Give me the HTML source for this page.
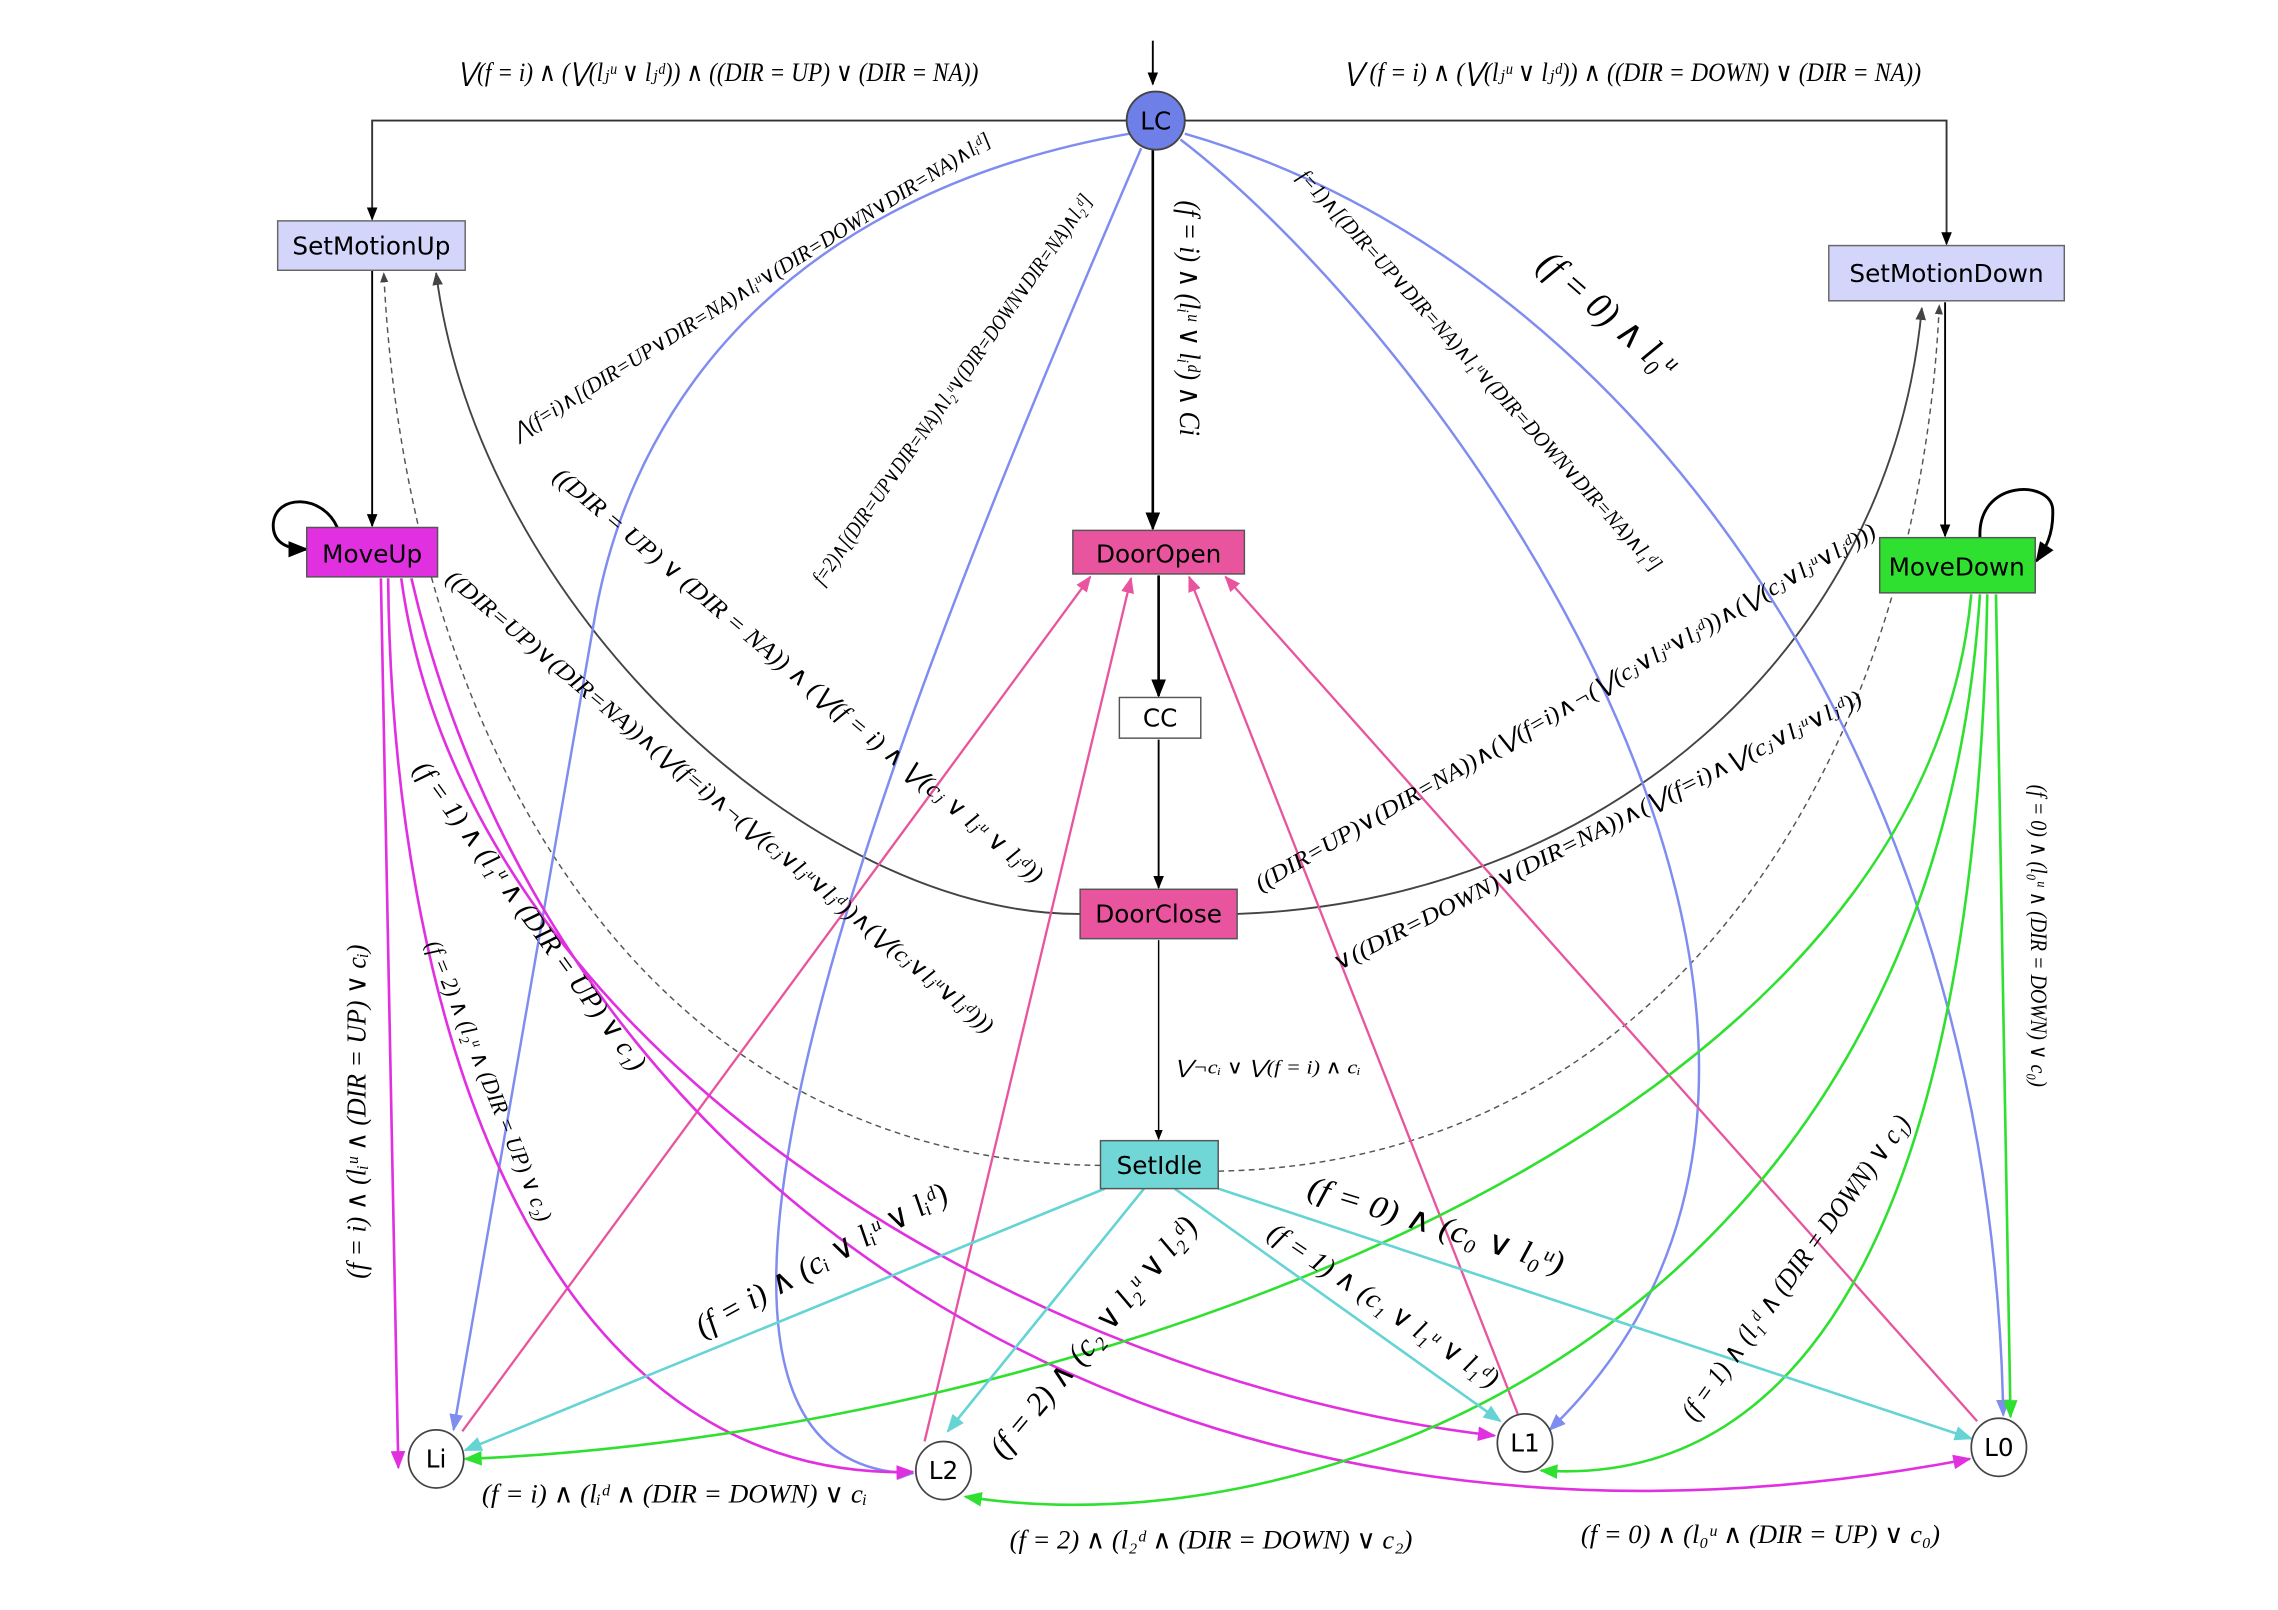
<!DOCTYPE html>
<html><head><meta charset="utf-8"><style>
html,body{margin:0;padding:0;background:#fff;}
svg{display:block;}
.n{font-family:"DejaVu Sans","Liberation Sans",sans-serif;font-size:17px;fill:#000;}
.m{font-family:"Liberation Serif","DejaVu Serif",serif;font-style:italic;fill:#000;}
</style></head><body>
<svg width="2278" height="1610" viewBox="0 0 1567 1108" preserveAspectRatio="none" xmlns="http://www.w3.org/2000/svg">
<defs>
<marker id="ak" viewBox="0 0 10 10" refX="9" refY="5" markerWidth="7" markerHeight="7" orient="auto"><path d="M0,1 L10,5 L0,9z" fill="#000"/></marker>
<marker id="ag" viewBox="0 0 10 10" refX="9" refY="5" markerWidth="7" markerHeight="7" orient="auto"><path d="M0,1 L10,5 L0,9z" fill="#444"/></marker>
<marker id="ab" viewBox="0 0 10 10" refX="9" refY="5" markerWidth="7" markerHeight="7" orient="auto"><path d="M0,1 L10,5 L0,9z" fill="#7f8cf0"/></marker>
<marker id="ap" viewBox="0 0 10 10" refX="9" refY="5" markerWidth="7" markerHeight="7" orient="auto"><path d="M0,1 L10,5 L0,9z" fill="#e8559e"/></marker>
<marker id="am" viewBox="0 0 10 10" refX="9" refY="5" markerWidth="7" markerHeight="7" orient="auto"><path d="M0,1 L10,5 L0,9z" fill="#e030e0"/></marker>
<marker id="agr" viewBox="0 0 10 10" refX="9" refY="5" markerWidth="7" markerHeight="7" orient="auto"><path d="M0,1 L10,5 L0,9z" fill="#30e030"/></marker>
<marker id="ac" viewBox="0 0 10 10" refX="9" refY="5" markerWidth="7" markerHeight="7" orient="auto"><path d="M0,1 L10,5 L0,9z" fill="#66d4d4"/></marker>
</defs>

<g fill="none" stroke="#000" stroke-width="1.3">
<path d="M793,28 L793,58" marker-end="url(#ak)"/>
<path d="M775,83 L256,83 L256,151" stroke="#333" marker-end="url(#ak)"/>
<path d="M815,83 L1339,83 L1339,168" stroke="#333" marker-end="url(#ak)"/>
<path d="M793,103 L793,364" stroke-width="1.8" marker-end="url(#ak)"/>
<path d="M256,186 L256,362" marker-end="url(#ak)"/>
<path d="M1338,208 L1338,369" marker-end="url(#ak)"/>
<path d="M797,396 L797,479" stroke-width="1.8" marker-end="url(#ak)"/>
<path d="M797,509 L797,611" marker-end="url(#ak)"/>
<path d="M797,647 L797,784" stroke-width="1" marker-end="url(#ak)"/>
<path d="M232,363 C222,340 190,340 188,360 C187,375 200,378 211,378" stroke-width="2" marker-end="url(#ak)"/>
<path d="M1362,370 C1360,330 1410,330 1412,350 C1413,370 1405,380 1401,386" stroke-width="2" marker-end="url(#ak)"/>
<path d="M743,629 C560,630 330,420 300,188" stroke="#444" marker-end="url(#ag)"/>
<path d="M851,629 C1100,620 1300,450 1322,212" stroke="#444" marker-end="url(#ag)"/>
<path d="M757,802 C450,800 280,520 264,188" stroke="#555" stroke-dasharray="4,3" stroke-width="1" marker-end="url(#ag)"/>
<path d="M838,806 C1150,800 1320,520 1334,210" stroke="#555" stroke-dasharray="4,3" stroke-width="1" marker-end="url(#ag)"/>
</g>

<g fill="none" stroke="#7f8cf0" stroke-width="1.7">
<path d="M777,92 C560,130 440,260 410,420 L312,984" marker-end="url(#ab)"/>
<path d="M785,102 C640,440 400,1010 628,1014" marker-end="url(#ab)"/>
<path d="M812,96 C1000,240 1340,720 1066,984" marker-end="url(#ab)"/>
<path d="M815,92 C1120,180 1370,520 1378,974" marker-end="url(#ab)"/>
</g>
<g fill="none" stroke="#e8559e" stroke-width="1.6">
<path d="M318,985 L750,397" marker-end="url(#ap)"/>
<path d="M636,992 L778,398" marker-end="url(#ap)"/>
<path d="M1044,973 L818,397" marker-end="url(#ap)"/>
<path d="M1360,978 L843,397" marker-end="url(#ap)"/>
</g>
<g fill="none" stroke="#e030e0" stroke-width="1.8">
<path d="M262,398 L274,1010" marker-end="url(#am)"/>
<path d="M267,398 C270,720 380,1020 628,1013" marker-end="url(#am)"/>
<path d="M276,398 C320,720 700,950 1028,988" marker-end="url(#am)"/>
<path d="M283,398 C380,820 800,1110 1355,1004" marker-end="url(#am)"/>
</g>
<g fill="none" stroke="#30e030" stroke-width="1.8">
<path d="M1356,409 C1320,800 700,990 320,1004" marker-end="url(#agr)"/>
<path d="M1362,409 C1330,900 920,1070 664,1030" marker-end="url(#agr)"/>
<path d="M1367,409 C1360,820 1250,1025 1060,1012" marker-end="url(#agr)"/>
<path d="M1373,409 L1383,975" marker-end="url(#agr)"/>
</g>
<g fill="none" stroke="#66d4d4" stroke-width="1.8">
<path d="M760,818 L320,998" marker-end="url(#ac)"/>
<path d="M787,818 L652,985" marker-end="url(#ac)"/>
<path d="M808,818 L1032,978" marker-end="url(#ac)"/>
<path d="M838,818 L1356,990" marker-end="url(#ac)"/>
</g>

<circle cx="795" cy="83" r="20" fill="#6f7fe8" stroke="#444" stroke-width="1.3"/>
<text class="n" x="795" y="89" text-anchor="middle">LC</text>
<rect x="191" y="152" width="129" height="34" fill="#d3d6fa" stroke="#666"/>
<text class="n" x="255.5" y="175" text-anchor="middle">SetMotionUp</text>
<rect x="1258" y="169" width="162" height="38" fill="#d3d6fa" stroke="#666"/>
<text class="n" x="1339" y="194" text-anchor="middle">SetMotionDown</text>
<rect x="211" y="363" width="90" height="34" fill="#e030e0" stroke="#555"/>
<text class="n" x="256" y="387" text-anchor="middle">MoveUp</text>
<rect x="738" y="365" width="118" height="30" fill="#e8559e" stroke="#555"/>
<text class="n" x="797" y="387" text-anchor="middle">DoorOpen</text>
<rect x="1293" y="370" width="107" height="38" fill="#30e030" stroke="#555"/>
<text class="n" x="1346" y="396" text-anchor="middle">MoveDown</text>
<rect x="770" y="480" width="56" height="28" fill="#fff" stroke="#555"/>
<text class="n" x="798" y="500" text-anchor="middle">CC</text>
<rect x="743" y="612" width="108" height="34" fill="#e8559e" stroke="#555"/>
<text class="n" x="797" y="635" text-anchor="middle">DoorClose</text>
<rect x="757" y="785" width="81" height="33" fill="#70d6d6" stroke="#555"/>
<text class="n" x="797.5" y="808" text-anchor="middle">SetIdle</text>
<g fill="#fff" stroke="#444" stroke-width="1.2">
<ellipse cx="300" cy="1004" rx="19" ry="20"/>
<ellipse cx="649" cy="1012" rx="19" ry="20"/>
<ellipse cx="1049" cy="993" rx="19" ry="20"/>
<ellipse cx="1375" cy="996" rx="19" ry="20"/>
</g>
<text class="n" x="300" y="1010" text-anchor="middle">Li</text>
<text class="n" x="649" y="1018" text-anchor="middle">L2</text>
<text class="n" x="1049" y="999" text-anchor="middle">L1</text>
<text class="n" x="1375" y="1002" text-anchor="middle">L0</text>

<g class="m" font-size="15" dominant-baseline="central" text-anchor="middle">
<text x="494" y="50" textLength="358" lengthAdjust="spacingAndGlyphs" font-size="18">⋁(f = i) ∧ (⋁(lⱼᵘ ∨ lⱼᵈ)) ∧ ((DIR = UP) ∨ (DIR = NA))</text>
<text x="1123" y="50" textLength="397" lengthAdjust="spacingAndGlyphs" font-size="18">⋁ (f = i) ∧ (⋁(lⱼᵘ ∨ lⱼᵈ)) ∧ ((DIR = DOWN) ∨ (DIR = NA))</text>
<text transform="translate(818,219) rotate(90)" textLength="162" lengthAdjust="spacingAndGlyphs" font-size="20">(f = i) ∧ (lᵢᵘ ∨ lᵢᵈ) ∧ Ci</text>
<text transform="translate(1106,216) rotate(41)" textLength="117" lengthAdjust="spacingAndGlyphs" font-size="26">(f = 0) ∧ l₀ᵘ</text>
<text transform="translate(1018,255) rotate(48)" textLength="366" lengthAdjust="spacingAndGlyphs">f=1)∧[(DIR=UP∨DIR=NA)∧l₁ᵘ∨(DIR=DOWN∨DIR=NA)∧l₁ᵈ]</text>
<text transform="translate(517,197) rotate(-32)" textLength="385" lengthAdjust="spacingAndGlyphs">⋀(f=i)∧[(DIR=UP∨DIR=NA)∧lᵢᵘ∨(DIR=DOWN∨DIR=NA)∧lᵢᵈ]</text>
<text transform="translate(655,268) rotate(-55)" textLength="324" lengthAdjust="spacingAndGlyphs">f=2)∧[(DIR=UP∨DIR=NA)∧l₂ᵘ∨(DIR=DOWN∨DIR=NA)∧l₂ᵈ]</text>
<text transform="translate(549,465) rotate(40)" textLength="434" lengthAdjust="spacingAndGlyphs" font-size="17">((DIR = UP) ∨ (DIR = NA)) ∧ (⋁(f = i) ∧ ⋁(cⱼ ∨ lⱼᵘ ∨ lⱼᵈ))</text>
<text transform="translate(495,552) rotate(40)" textLength="486" lengthAdjust="spacingAndGlyphs" font-size="16">((DIR=UP)∨(DIR=NA))∧(⋁(f=i)∧¬(⋁(cⱼ∨lⱼᵘ∨lⱼᵈ))∧(⋁(cⱼ∨lⱼᵘ∨lⱼᵈ)))</text>
<text transform="translate(1077,487) rotate(-30)" textLength="490" lengthAdjust="spacingAndGlyphs" font-size="16">((DIR=UP)∨(DIR=NA))∧(⋁(f=i)∧¬(⋁(cⱼ∨lⱼᵘ∨lⱼᵈ))∧(⋁(cⱼ∨lⱼᵘ∨lⱼᵈ)))</text>
<text transform="translate(1099,572) rotate(-27)" textLength="406" lengthAdjust="spacingAndGlyphs" font-size="16">∨((DIR=DOWN)∨(DIR=NA))∧(⋁(f=i)∧⋁(cⱼ∨lⱼᵘ∨lⱼᵈ))</text>
<text x="872" y="735" textLength="128" lengthAdjust="spacingAndGlyphs" font-size="13">⋁¬cᵢ ∨ ⋁(f = i) ∧ cᵢ</text>
<text transform="translate(245,765) rotate(-90)" textLength="230" lengthAdjust="spacingAndGlyphs" font-size="19">(f = i) ∧ (lᵢᵘ ∧ (DIR = UP) ∨ cᵢ)</text>
<text transform="translate(336,744) rotate(68)" textLength="207" lengthAdjust="spacingAndGlyphs" font-size="16">(f = 2) ∧ (l₂ᵘ ∧ (DIR = UP) ∨ c₂)</text>
<text transform="translate(365,630) rotate(54)" textLength="258" lengthAdjust="spacingAndGlyphs" font-size="19">(f = 1) ∧ (l₁ᵘ ∧ (DIR = UP) ∨ c₁)</text>
<text transform="translate(565,867) rotate(-29)" textLength="195" lengthAdjust="spacingAndGlyphs" font-size="22">(f = i) ∧ (cᵢ ∨ lᵢᵘ ∨ lᵢᵈ)</text>
<text transform="translate(752,920) rotate(-50)" textLength="209" lengthAdjust="spacingAndGlyphs" font-size="22">(f = 2) ∧ (c₂ ∨ l₂ᵘ ∨ l₂ᵈ)</text>
<text transform="translate(988,843) rotate(17)" textLength="183" lengthAdjust="spacingAndGlyphs" font-size="22">(f = 0) ∧ (c₀ ∨ l₀ᵘ)</text>
<text transform="translate(952,898) rotate(34)" textLength="187" lengthAdjust="spacingAndGlyphs" font-size="19">(f = 1) ∧ (c₁ ∨ l₁ᵘ ∨ l₁ᵈ)</text>
<text transform="translate(1235,872) rotate(-54)" textLength="254" lengthAdjust="spacingAndGlyphs" font-size="19">(f = 1) ∧ (l₁ᵈ ∧ (DIR = DOWN) ∨ c₁)</text>
<text transform="translate(1402,644) rotate(90)" textLength="208" lengthAdjust="spacingAndGlyphs" font-size="16">(f = 0) ∧ (l₀ᵘ ∧ (DIR = DOWN) ∨ c₀)</text>
<text x="464" y="1028" textLength="265" lengthAdjust="spacingAndGlyphs" font-size="18">(f = i) ∧ (lᵢᵈ ∧ (DIR = DOWN) ∨ cᵢ</text>
<text x="833" y="1060" textLength="277" lengthAdjust="spacingAndGlyphs" font-size="18">(f = 2) ∧ (l₂ᵈ ∧ (DIR = DOWN) ∨ c₂)</text>
<text x="1211" y="1056" textLength="247" lengthAdjust="spacingAndGlyphs" font-size="18">(f = 0) ∧ (l₀ᵘ ∧ (DIR = UP) ∨ c₀)</text>
</g>
</svg>
</body></html>
